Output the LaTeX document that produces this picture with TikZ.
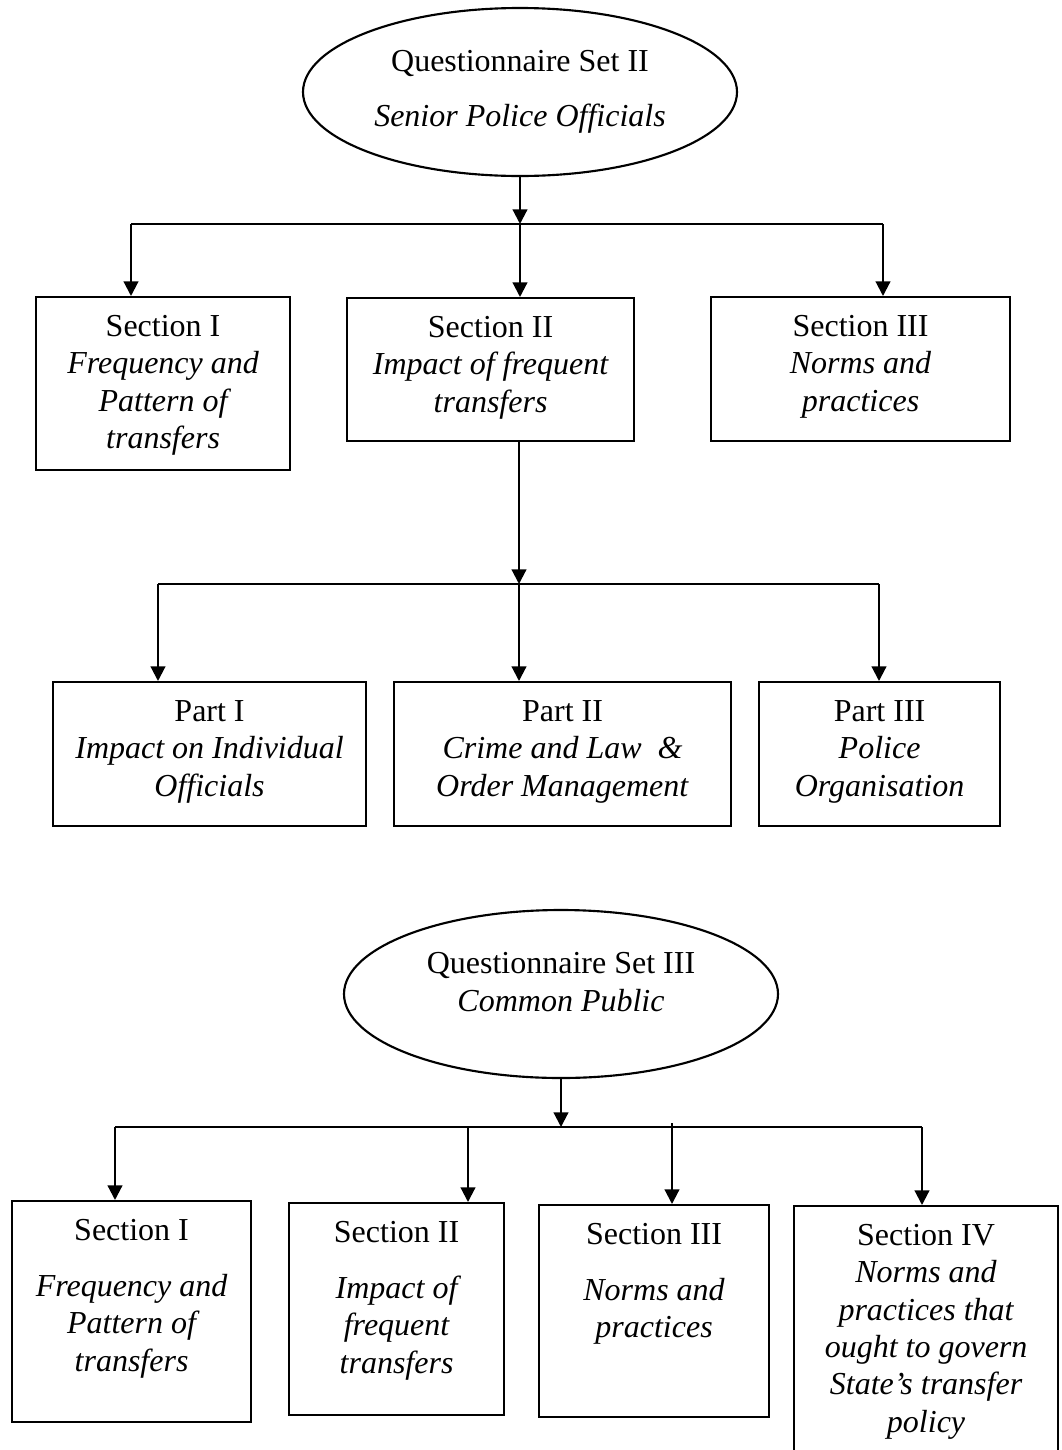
\documentclass[tikz,border=0pt]{standalone}
\usepackage{fontspec}
\setmainfont{Liberation Serif}
\usetikzlibrary{arrows.meta,shapes.geometric}
% text of a box: width, height, lines
\newcommand{\boxtext}[3]{\parbox[c][#2][t]{#1}{\centering\strut #3}}

\begin{document}
\begin{tikzpicture}[x=0.375pt,y=-0.375pt,
  every node/.style={font=\fontsize{12}{14}\selectfont},
  oval/.style={draw,ellipse,line width=0.8pt,minimum width=162.75pt,minimum height=63pt,inner sep=0pt,align=center},
  sectbox/.style={draw,line width=0.8pt,inner xsep=1.5pt,inner ysep=5pt,anchor=north west},
  link/.style={line width=0.8pt},
  arr/.style={line width=0.8pt,-{Triangle[length=5.5pt,width=5.5pt]}}]
\useasboundingbox (0,0) rectangle (1062,1450);

% Questionnaire Set II
\node[oval] (set2) at (520,92) {Questionnaire Set II\\[6.6pt]\textit{Senior Police Officials}};

\node[sectbox] (sec1) at (35,296) {\boxtext{92.25pt}{54.875pt}{Section I\\\textit{Frequency and\\Pattern of\\transfers}}};
\node[sectbox] (sec2) at (346,297) {\boxtext{104.625pt}{43.625pt}{Section II\\\textit{Impact of frequent\\transfers}}};
\node[sectbox] (sec3) at (710,296) {\boxtext{109.125pt}{44pt}{Section III\\\textit{Norms and\\practices}}};

\coordinate (j1) at (520,224);
\coordinate (t1l) at (131,224);
\coordinate (t1r) at (883,224);
\draw[arr] (set2.south) -- (j1);
\draw[link] (t1l) -- (t1r);
\draw[arr] (t1l) -- (t1l |- sec1.north);
\draw[arr] (j1) -- (j1 |- sec2.north);
\draw[arr] (t1r) -- (t1r |- sec3.north);

% parts of section II
\node[sectbox] (part1) at (52,681) {\boxtext{114.375pt}{44pt}{Part I\\\textit{Impact on Individual\\Officials}}};
\node[sectbox] (part2) at (393,681) {\boxtext{123.375pt}{44pt}{Part II\\\textit{Crime and Law\ \ \&\\Order Management}}};
\node[sectbox] (part3) at (758,681) {\boxtext{87.375pt}{44pt}{Part III\\\textit{Police\\Organisation}}};

\coordinate (j2) at (519,584);
\coordinate (t2l) at (158,584);
\coordinate (t2r) at (879,584);
\draw[arr] (sec2.south -| j2) -- (j2);
\draw[link] (t2l) -- (t2r);
\draw[arr] (t2l) -- (t2l |- part1.north);
\draw[arr] (j2) -- (j2 |- part2.north);
\draw[arr] (t2r) -- (t2r |- part3.north);

% Questionnaire Set III
\node[oval] (set3) at (561,994) {};
\node[align=center] (set3text) at (561,982) {Questionnaire Set III\\\textit{Common Public}};

\node[sectbox] (bsec1) at (11,1200) {\boxtext{86.625pt}{72.875pt}{Section I\\[7pt]\textit{Frequency and\\Pattern of\\transfers}}};
\node[sectbox] (bsec2) at (288,1202) {\boxtext{77.625pt}{69.5pt}{Section II\\[7pt]\textit{Impact of\\frequent\\transfers}}};
\node[sectbox] (bsec3) at (538,1204) {\boxtext{83.25pt}{69.5pt}{Section III\\[7pt]\textit{Norms and\\practices}}};
\node[sectbox] (bsec4) at (793,1205) {\boxtext{96pt}{87.5pt}{Section IV\\\textit{Norms and\\practices that\\ought to govern\\State's transfer\\policy}}};

\coordinate (j3) at (561,1127);
\coordinate (t3l) at (115,1127);
\coordinate (t3b) at (468,1127);
\coordinate (t3c) at (672,1123);
\coordinate (t3r) at (922,1127);
\draw[arr] (set3.south) -- (j3);
\draw[link] (t3l) -- (t3r);
\draw[arr] (t3l) -- (t3l |- bsec1.north);
\draw[arr] (t3b) -- (t3b |- bsec2.north);
\draw[arr] (t3c) -- (t3c |- bsec3.north);
\draw[arr] (t3r) -- (t3r |- bsec4.north);
\end{tikzpicture}
\end{document}
